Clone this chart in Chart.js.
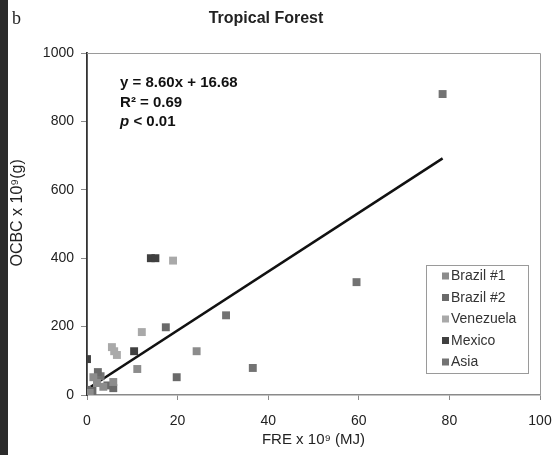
<!DOCTYPE html>
<html>
<head>
<meta charset="utf-8">
<script src="https://cdn.jsdelivr.net/npm/chart.js@4"></script>
<style>
  body { margin: 0; background: #fff; }
  #wrap { width: 554px; height: 455px; }
</style>
</head>
<body>
<div id="wrap"><canvas id="myChart" width="554" height="455"></canvas></div>
<script>
// values (FRE x 10^9 MJ, OCBC x 10^9 g)
const brazil1 = [
  {x: 24.2, y: 128}, {x: 11.1, y: 76}, {x: 1.4, y: 52}, {x: 5.8, y: 38},
  {x: 3.6, y: 24}, {x: 0, y: 0}, {x: 0.6, y: 6}, {x: 2.2, y: 35}
];
const brazil2 = [
  {x: 17.4, y: 198}, {x: 19.8, y: 52}, {x: 2.4, y: 67}, {x: 5.8, y: 20},
  {x: 0, y: 15}, {x: 1.2, y: 12}, {x: 4.5, y: 28}
];
const venezuela = [
  {x: 19, y: 393}, {x: 12.1, y: 184}, {x: 5.5, y: 140}, {x: 6, y: 128}, {x: 6.6, y: 117}
];
const mexico = [
  {x: 14.1, y: 400}, {x: 15.1, y: 400}, {x: 10.4, y: 128}, {x: 0, y: 105}
];
const asia = [
  {x: 78.5, y: 880}, {x: 59.5, y: 330}, {x: 36.6, y: 79}, {x: 30.7, y: 233}, {x: 3, y: 55}
];
const fitLine = [{x: 0, y: 17}, {x: 78.5, y: 692}];
const equationLines = ['y = 8.60x + 16.68', 'R\u00b2 = 0.69', 'p < 0.01'];

const seriesLabels = ['Brazil #1', 'Brazil #2', 'Venezuela', 'Mexico', 'Asia'];
const seriesColors = ['#8c8c8c', '#6a6a6a', '#a9a9a9', '#404040', '#737373'];
const seriesData = [brazil1, brazil2, venezuela, mexico, asia];

const FONT = '"Liberation Sans", Arial, sans-serif';

const datasets = seriesData.map(function (d, i) {
  return {
    label: seriesLabels[i],
    data: d,
    pointStyle: 'rect',
    pointRadius: 5.6,
    pointHoverRadius: 5.6,
    borderWidth: 0,
    backgroundColor: seriesColors[i],
    borderColor: seriesColors[i]
  };
});
datasets.push({
  label: 'fit',
  type: 'line',
  data: fitLine,
  borderColor: '#111',
  borderWidth: 2.5,
  pointRadius: 0,
  fill: false
});

const decor = {
  id: 'decor',
  beforeDraw(chart) {
    const c = chart.ctx;
    c.save();
    c.fillStyle = '#fff';
    c.fillRect(0, 0, chart.width, chart.height);
    c.fillStyle = '#2b2b2b';
    c.fillRect(0, 0, 8, chart.height);
    c.fillStyle = '#222';
    c.font = '18px "Liberation Serif", serif';
    c.textBaseline = 'alphabetic';
    c.fillText('b', 12, 24);
    c.font = 'bold 16px ' + FONT;
    c.textAlign = 'center';
    c.textBaseline = 'middle';
    c.fillText('Tropical Forest', 266, 19);
    c.restore();
  },
  afterDraw(chart) {
    const c = chart.ctx;
    const a = chart.chartArea;
    const xs = chart.scales.x, ys = chart.scales.y;
    c.save();
    // frame
    c.strokeStyle = '#9a9a9a';
    c.lineWidth = 1;
    c.beginPath();
    c.moveTo(a.left, a.top + 0.5); c.lineTo(a.right + 0.5, a.top + 0.5); c.lineTo(a.right + 0.5, a.bottom);
    c.stroke();
    // equation
    c.fillStyle = '#111';
    c.textAlign = 'left';
    c.textBaseline = 'middle';
    const ex = xs.getPixelForValue(7.3);
    const ey = ys.getPixelForValue(912);
    equationLines.forEach(function (t, i) {
      if (i === 2) {
        c.font = 'bold italic 15px ' + FONT;
        c.fillText('p', ex, ey + i * 19.5);
        const w = c.measureText('p').width;
        c.font = 'bold 15px ' + FONT;
        c.fillText(t.slice(1), ex + w, ey + i * 19.5);
      } else {
        c.font = 'bold 15px ' + FONT;
        c.fillText(t, ex, ey + i * 19.5);
      }
    });
    // legend
    const lx = 426, ly = 265, lw = 102, lh = 108;
    c.fillStyle = '#fff';
    c.fillRect(lx, ly, lw, lh);
    c.strokeStyle = '#9a9a9a';
    c.strokeRect(lx + 0.5, ly + 0.5, lw, lh);
    c.font = '14px ' + FONT;
    seriesLabels.forEach(function (t, i) {
      const y = ly + 11 + i * 21.5;
      c.fillStyle = seriesColors[i];
      c.fillRect(lx + 16, y - 3.5, 7, 7);
      c.fillStyle = '#333';
      c.fillText(t, lx + 25, y + 0.5);
    });
    c.restore();
  }
};

const ctx = document.getElementById('myChart').getContext('2d');
const scatterChart = new Chart(ctx, {
  type: 'scatter',
  data: { datasets: datasets },
  options: {
    responsive: false,
    animation: false,
    layout: { padding: { top: 53, right: 14, bottom: 0, left: 0 } },
    plugins: {
      legend: { display: false },
      tooltip: { enabled: false },
      title: { display: false }
    },
    scales: {
      x: {
        type: 'linear',
        min: 0, max: 100,
        ticks: { stepSize: 20, color: '#222', padding: 13, font: { size: 14, family: FONT } },
        grid: { drawOnChartArea: false, drawTicks: true, tickLength: 5, color: '#8a8a8a' },
        border: { color: '#8a8a8a', width: 1.5 },
        title: { display: true, text: 'FRE x 10\u2079 (MJ)', color: '#222', padding: { top: 0, bottom: 6 }, font: { size: 15, family: FONT } },
        afterFit(scale) { scale.height = 60; scale.paddingLeft = 0; scale.paddingRight = 0; }
      },
      y: {
        type: 'linear',
        min: 0, max: 1000,
        ticks: { stepSize: 200, color: '#222', padding: 7, font: { size: 14, family: FONT },
          callback: function (v) { return String(v); } },
        grid: { drawOnChartArea: false, drawTicks: true, tickLength: 6, color: '#8a8a8a' },
        border: { color: '#333', width: 1.8 },
        title: { display: true, text: '     OCBC x 10\u2079(g)', color: '#222', padding: { top: 8, bottom: 0 }, font: { size: 16, family: FONT } },
        afterFit(scale) { scale.width = 87; scale.paddingTop = 0; scale.paddingBottom = 0; }
      }
    }
  },
  plugins: [decor]
});
</script>
</body>
</html>
